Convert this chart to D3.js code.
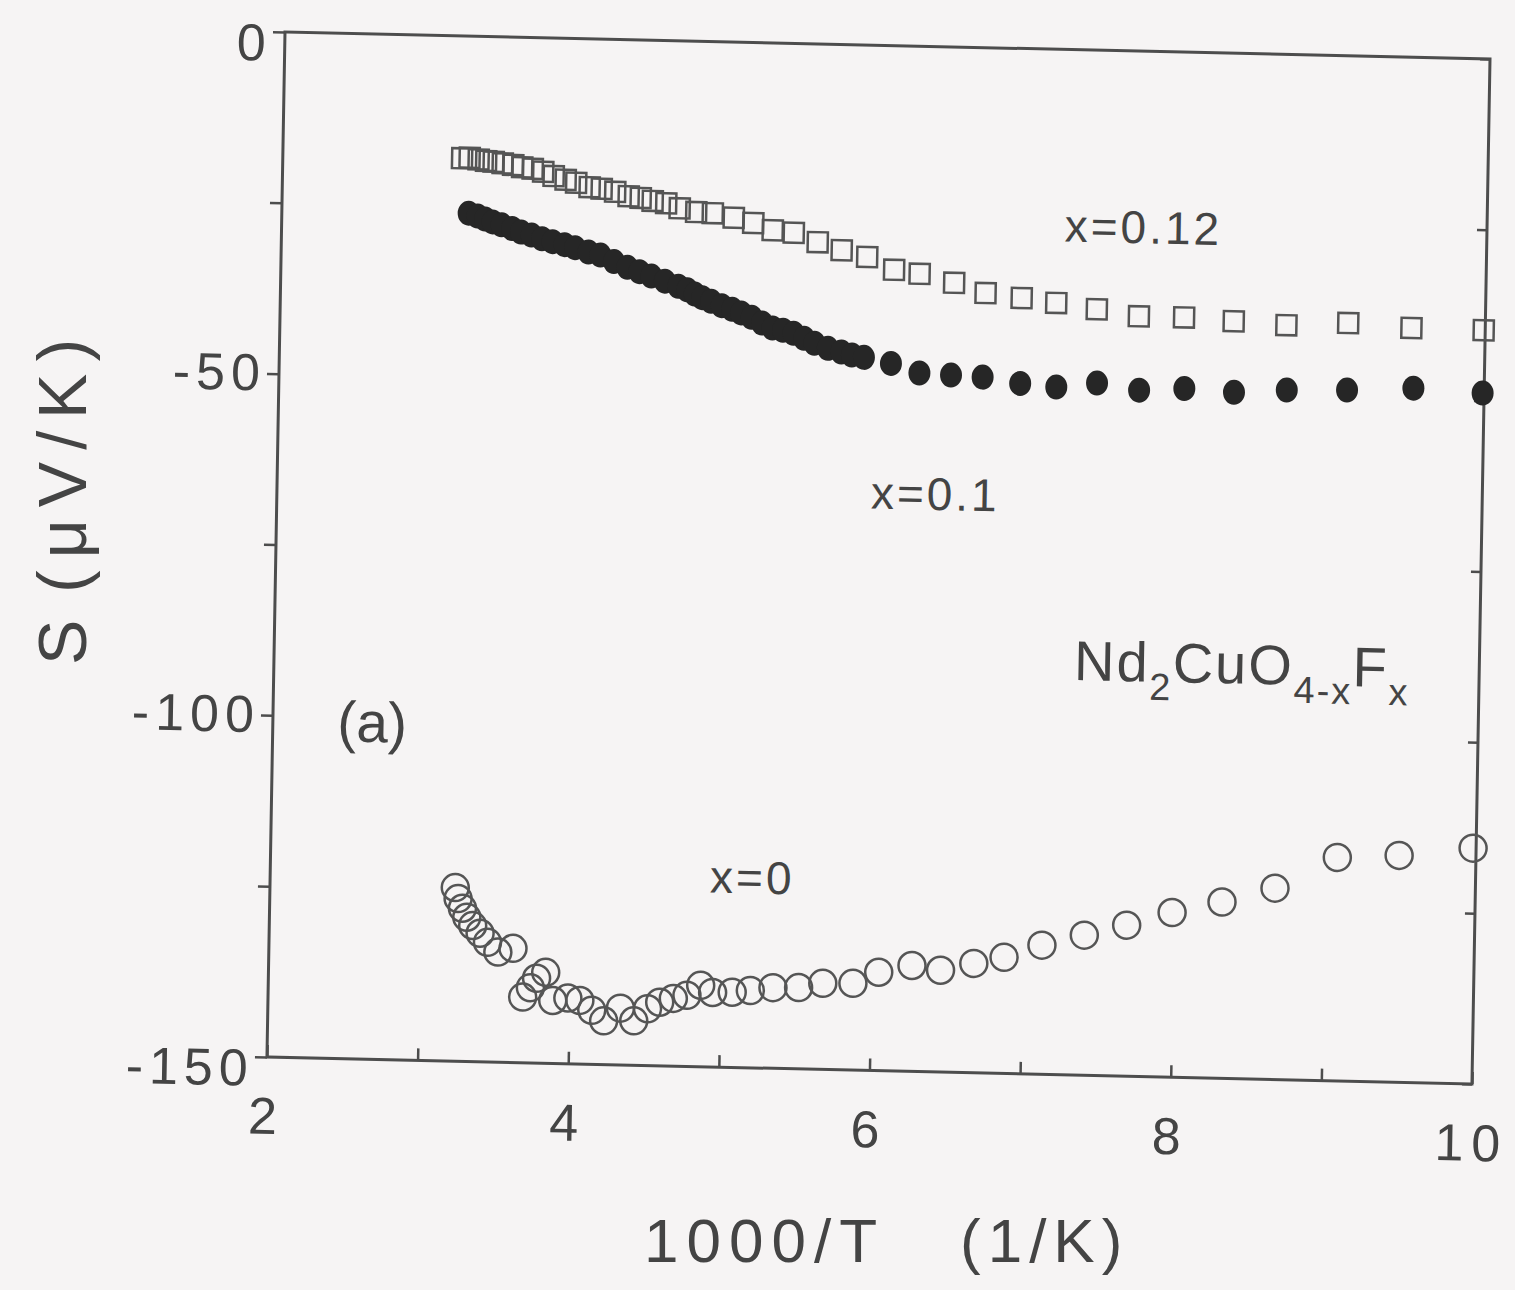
<!DOCTYPE html>
<html>
<head>
<meta charset="utf-8">
<title>Nd2CuO4-xFx thermopower</title>
<script src="https://d3js.org/d3.v7.min.js"></script>
<style>
body { margin: 0; background: #f6f4f4; }
svg { display: block; background: #f6f4f4; }
text { fill: #444; font-family: "Liberation Sans", Arial, sans-serif; }
</style>
</head>
<body>
<svg id="chart" width="1515" height="1290"></svg>
<script>
// x = 0.12, open squares
var sqX = [3.19,3.24,3.30,3.35,3.40,3.46,3.53,3.59,3.66,3.73,3.80,3.88,3.95,4.04,4.12,4.21,4.30,4.38,4.46,4.55,
           4.64,4.75,4.86,5.00,5.13,5.26,5.40,5.56,5.72,5.89,6.07,6.24,6.47,6.68,6.92,7.15,7.42,7.70,8.00,8.33,
           8.68,9.09,9.51,9.99];
var sqY = [-17.9,-17.8,-18.0,-18.2,-18.3,-18.5,-18.7,-19.0,-19.2,-19.6,-20.2,-20.7,-21.1,-21.7,-21.9,-22.3,-22.9,-23.1,-23.5,-23.8,
           -24.5,-25.0,-25.1,-25.7,-26.4,-27.4,-27.7,-29.0,-30.1,-31.0,-32.8,-33.3,-34.5,-35.9,-36.5,-37.1,-37.9,-38.8,-38.8,-39.2,
           -39.6,-39.1,-39.6,-39.7];

// x = 0.1, filled circles
var fcX = [3.24,3.30,3.35,3.40,3.46,3.53,3.59,3.66,3.73,3.80,3.88,3.95,4.04,4.12,4.21,4.30,4.38,4.46,4.55,4.64,
           4.70,4.75,4.80,4.86,4.93,5.00,5.06,5.13,5.20,5.27,5.34,5.41,5.48,5.55,5.64,5.73,5.80,5.88,6.06,6.25,
           6.46,6.67,6.92,7.16,7.43,7.71,8.01,8.34,8.69,9.09,9.53,9.99];
var fcY = [-25.9,-26.3,-26.7,-27.1,-27.5,-28.0,-28.5,-28.9,-29.4,-29.8,-30.2,-30.6,-31.2,-31.6,-32.5,-33.3,-33.9,-34.5,-35.2,-35.9,
           -36.4,-37.0,-37.5,-38.0,-38.6,-39.1,-39.6,-40.2,-41.0,-41.7,-42.0,-42.4,-43.1,-43.8,-44.5,-45.0,-45.4,-45.7,-46.5,-47.8,
           -48.0,-48.2,-49.0,-49.4,-48.7,-49.6,-49.2,-49.6,-49.1,-48.9,-48.4,-48.9];

// x = 0, open circles
var ocX = [3.23,3.25,3.28,3.31,3.35,3.40,3.45,3.52,3.62,3.69,3.74,3.78,3.84,3.89,3.99,4.07,4.15,4.23,4.34,4.43,
           4.52,4.60,4.69,4.78,4.87,4.95,5.08,5.20,5.35,5.52,5.68,5.88,6.05,6.27,6.46,6.68,6.88,7.13,7.41,7.69,
           7.99,8.32,8.67,9.08,9.49,9.98];
var ocY = [-124.6,-126.2,-127.6,-128.9,-130.1,-131.2,-132.5,-133.9,-133.3,-140.4,-139.0,-137.6,-136.7,-140.8,-140.4,-140.7,-142.1,-143.6,-141.7,-143.5,
           -141.7,-140.7,-140.1,-139.6,-138.1,-139.1,-139.0,-138.7,-138.2,-138.1,-137.4,-137.3,-135.6,-134.5,-135.1,-134.0,-133.0,-131.1,-129.5,-127.9,
           -125.9,-124.2,-122.0,-117.3,-116.8,-115.5];

var xTicks = [2,3,4,5,6,7,8,9,10];
var xLabels = [2,4,6,8,10];
var yTicks = [0,-25,-50,-75,-100,-125,-150];
var yLabels = [0,-50,-100,-150];

var W = 1205, H = 1025;
var ink = '#4d4d4d';

var svg = d3.select('#chart');

// the scanned frame is slightly rotated / sheared
var g = svg.append('g').attr('transform', 'matrix(1,0.0224,-0.0176,1,285,32)');

var x = d3.scaleLinear().domain([2, 10]).range([0, W]);
var y = d3.scaleLinear().domain([0, -150]).range([0, H]);

// left axis
var yAxis = d3.axisLeft(y).tickValues(yTicks).tickSizeInner(12).tickSizeOuter(0).tickPadding(1)
    .tickFormat(function(d) { return yLabels.indexOf(d) >= 0 ? d : ''; });
var gy = g.append('g').call(yAxis);
gy.select('.domain').remove();
gy.selectAll('line').attr('stroke', ink).attr('stroke-width', 2.5);
gy.selectAll('text').attr('font-size', 52).attr('letter-spacing', 6).attr('fill', '#444')
    .attr('font-family', '"Liberation Sans", Arial, sans-serif');
// end labels sit a little below their ticks in the original
gy.selectAll('text').filter(function(d) { return d === 0 || d === -150; }).attr('dy', '0.55em');

// right axis, ticks inward
var gr = g.append('g').attr('transform', 'translate(' + W + ',0)')
    .call(d3.axisRight(y).tickValues(yTicks).tickSizeInner(-10).tickSizeOuter(0).tickFormat(''));
gr.select('.domain').remove();
gr.selectAll('line').attr('stroke', ink).attr('stroke-width', 2.5);

// bottom axis, ticks inward
var xAxis = d3.axisBottom(x).tickValues(xTicks).tickSizeInner(-12).tickSizeOuter(0).tickPadding(40)
    .tickFormat(function(d) { return xLabels.indexOf(d) >= 0 ? d : ''; });
var gx = g.append('g').attr('transform', 'translate(0,' + H + ')').call(xAxis);
gx.select('.domain').remove();
gx.selectAll('line').attr('stroke', ink).attr('stroke-width', 2.5);
gx.selectAll('text').attr('font-size', 52).attr('letter-spacing', 8).attr('fill', '#444')
    .attr('font-family', '"Liberation Sans", Arial, sans-serif');

// frame
g.append('rect').attr('x', 0).attr('y', 0).attr('width', W).attr('height', H)
    .attr('fill', 'none').attr('stroke', ink).attr('stroke-width', 3);

// x = 0.12 squares
g.selectAll('.sq').data(d3.zip(sqX, sqY)).enter().append('rect')
    .attr('class', 'sq')
    .attr('x', function(d) { return x(d[0]) - 10; })
    .attr('y', function(d) { return y(d[1]) - 10; })
    .attr('width', 20).attr('height', 20)
    .attr('fill', 'none').attr('stroke', '#555').attr('stroke-width', 2.5);

// x = 0.1 filled
g.selectAll('.fc').data(d3.zip(fcX, fcY)).enter().append('ellipse')
    .attr('class', 'fc')
    .attr('cx', function(d) { return x(d[0]); })
    .attr('cy', function(d) { return y(d[1]); })
    .attr('rx', 11).attr('ry', 12.5)
    .attr('fill', '#262626');

// x = 0 open circles
g.selectAll('.oc').data(d3.zip(ocX, ocY)).enter().append('circle')
    .attr('class', 'oc')
    .attr('cx', function(d) { return x(d[0]); })
    .attr('cy', function(d) { return y(d[1]); })
    .attr('r', 13.5)
    .attr('fill', 'none').attr('stroke', '#555').attr('stroke-width', 2.5);

// annotations
var mono = '"Liberation Mono", "DejaVu Sans Mono", monospace';
g.append('text').attr('x', x(7.72)).attr('y', y(-28.1)).attr('text-anchor', 'middle')
    .attr('font-family', mono).attr('font-size', 46).attr('letter-spacing', 3).text('x=0.12');
g.append('text').attr('x', x(6.37)).attr('y', y(-67.8)).attr('text-anchor', 'middle')
    .attr('font-family', mono).attr('font-size', 46).attr('letter-spacing', 3).text('x=0.1');
g.append('text').attr('x', x(5.20)).attr('y', y(-124.5)).attr('text-anchor', 'middle')
    .attr('font-family', mono).attr('font-size', 46).attr('letter-spacing', 3).text('x=0');

g.append('text').attr('x', x(2.66)).attr('y', y(-103.6)).attr('text-anchor', 'middle')
    .attr('font-size', 57).text('(a)');

var f = g.append('text').attr('x', x(7.31)).attr('y', y(-92.2))
    .attr('font-size', 56).attr('letter-spacing', 2);
f.append('tspan').text('Nd');
f.append('tspan').attr('dy', 18).attr('font-size', 38).text('2');
f.append('tspan').attr('dy', -18).text('CuO');
f.append('tspan').attr('dy', 18).attr('font-size', 38).text('4-x');
f.append('tspan').attr('dy', -18).text('F');
f.append('tspan').attr('dy', 18).attr('font-size', 38).text('x');

// axis titles (separate tspans keep the wide gap)
var xt = svg.append('text').attr('y', 1262).attr('font-size', 62).attr('letter-spacing', 8);
xt.append('tspan').attr('x', 644).text('1000/T');
xt.append('tspan').attr('x', 960).attr('letter-spacing', 7).text('(1/K)');

var yt = svg.append('text').attr('transform', 'translate(86,665) rotate(-90)')
    .attr('font-size', 68).attr('letter-spacing', 12);
yt.append('tspan').attr('x', 0).text('S');
yt.append('tspan').attr('x', 72).text('(\u03bcV/K)');
</script>
</body>
</html>
